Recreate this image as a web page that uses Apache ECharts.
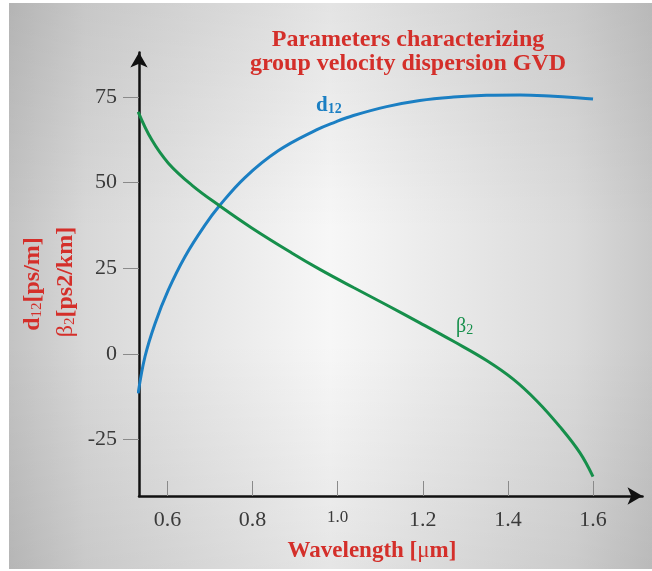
<!DOCTYPE html>
<html>
<head>
<meta charset="utf-8">
<script src="https://cdn.jsdelivr.net/npm/echarts@6/dist/echarts.min.js"></script>
<style>html,body{margin:0;padding:0;background:#fff}#c{width:652px;height:571px}</style>
</head>
<body>
<div id="c"></div>
<script>
// Data
const d12Wavelength = [0.531, 0.547, 0.571, 0.602, 0.641, 0.688, 0.723, 0.782, 0.860, 0.950, 0.994, 1.037, 1.115, 1.193, 1.272, 1.350, 1.428, 1.507, 1.569, 1.600];
const d12Values     = [-11.5, -0.8, 9.0, 18.7, 28.4, 37.6, 43.4, 51.5, 59.3, 65.4, 67.7, 69.6, 72.2, 74.0, 75.0, 75.5, 75.6, 75.2, 74.7, 74.4];
const beta2Wavelength = [0.531, 0.563, 0.602, 0.657, 0.723, 0.798, 0.892, 0.958, 1.037, 1.115, 1.193, 1.272, 1.350, 1.413, 1.468, 1.522, 1.569, 1.600];
const beta2Values     = [70.7, 62.5, 55.7, 49.3, 43.2, 36.8, 29.5, 24.7, 19.4, 14.3, 9.1, 3.7, -1.9, -7.4, -13.7, -21.2, -28.8, -35.8];
const xTickValues = [0.6, 0.8, 1.0, 1.2, 1.4, 1.6];
const yTickValues = [-25, 0, 25, 50, 75];

const RED = '#d42f2a';
const BLUE = '#1b7fc3';
const GREEN = '#168f4b';
const SERIF = "'Liberation Serif', 'DejaVu Serif', serif";

const chart = echarts.init(document.getElementById('c'));
chart.setOption({
  backgroundColor: '#ffffff',
  animation: false,
  grid: { left: 139, right: 9.5, top: 52.5, bottom: 75, containLabel: false, outerBoundsMode: 'none' },
  xAxis: {
    type: 'value', min: 0.533, max: 1.7163,
    splitLine: { show: false },
    axisLine: { onZero: false, lineStyle: { color: '#111', width: 2.5 }, symbol: ['none', 'arrow'], symbolSize: [13, 15] },
    axisTick: { show: true, inside: true, length: 15, customValues: xTickValues, lineStyle: { color: '#8a8a8a', width: 1 } },
    axisLabel: {
      customValues: xTickValues, margin: 13, color: '#3a3a3a', fontFamily: SERIF, fontSize: 22,
      formatter: v => Math.abs(v - 1) < 1e-9 ? '{s|1.0}' : v.toFixed(1),
      rich: { s: { fontSize: 17, fontFamily: SERIF, color: '#3a3a3a', padding: [0, 0, 5, 0] } }
    }
  },
  yAxis: {
    type: 'value', min: -41.45, max: 88.0,
    splitLine: { show: false },
    axisLine: { onZero: false, lineStyle: { color: '#111', width: 2.5 }, symbol: ['none', 'arrow'], symbolSize: [13, 15] },
    axisTick: { show: true, inside: false, length: 16, customValues: yTickValues, lineStyle: { color: '#8a8a8a', width: 1 } },
    axisLabel: { customValues: yTickValues, margin: 22, color: '#3a3a3a', fontFamily: SERIF, fontSize: 22 }
  },
  series: [
    { type: 'line', name: 'd12', data: d12Wavelength.map((x, i) => [x, d12Values[i]]), smooth: 0.4, showSymbol: false,
      lineStyle: { color: BLUE, width: 3 }, z: 3 },
    { type: 'line', name: 'beta2', data: beta2Wavelength.map((x, i) => [x, beta2Values[i]]), smooth: 0.4, showSymbol: false,
      lineStyle: { color: GREEN, width: 3 }, z: 3 }
  ],
  graphic: [
    { type: 'rect', z: -100, silent: true, shape: { x: 9, y: 3, width: 643, height: 566 },
      style: { fill: { type: 'linear', x: 0, y: 0, x2: 1, y2: 0, colorStops: [
        { offset: 0, color: '#c3c3c3' }, { offset: 0.12, color: '#d8d8d8' }, { offset: 0.5, color: '#f7f7f7' },
        { offset: 0.88, color: '#dadada' }, { offset: 1, color: '#c8c8c8' } ] } } },
    { type: 'rect', z: -99, silent: true, shape: { x: 9, y: 3, width: 643, height: 566 },
      style: { fill: { type: 'linear', x: 0, y: 0, x2: 0, y2: 1, colorStops: [
        { offset: 0, color: 'rgba(0,0,0,0.08)' }, { offset: 0.4, color: 'rgba(0,0,0,0)' },
        { offset: 0.6, color: 'rgba(0,0,0,0)' }, { offset: 1, color: 'rgba(0,0,0,0.07)' } ] } } },
    { type: 'text', z: 100, x: 408, y: 40, style: { text: 'Parameters characterizing', fill: RED, font: "bold 24px " + SERIF, align: 'center', verticalAlign: 'middle' } },
    { type: 'text', z: 100, x: 408, y: 64, style: { text: 'group velocity dispersion GVD', fill: RED, font: "bold 24px " + SERIF, align: 'center', verticalAlign: 'middle' } },
    { type: 'text', z: 100, x: 372, y: 551, style: {
        text: '{b|Wavelength [}{m|μ}{b|m]}', align: 'center', verticalAlign: 'middle',
        rich: { b: { fill: RED, fontSize: 23, fontWeight: 'bold', fontFamily: SERIF }, m: { fill: RED, fontSize: 23, fontWeight: 'normal', fontFamily: SERIF } } } },
    { type: 'text', z: 100, x: 33, y: 284, rotation: Math.PI / 2, style: {
        text: '{b|d}{sub|12}{b|[ps/m]}', align: 'center', verticalAlign: 'middle',
        rich: { b: { fill: RED, fontSize: 24, fontWeight: 'bold', fontFamily: SERIF }, sub: { fill: RED, fontSize: 15, fontFamily: SERIF, verticalAlign: 'bottom' } } } },
    { type: 'text', z: 100, x: 66, y: 282, rotation: Math.PI / 2, style: {
        text: '{g|β}{sub|2}{b|[ps2/km]}', align: 'center', verticalAlign: 'middle',
        rich: { g: { fill: RED, fontSize: 24, fontFamily: SERIF }, b: { fill: RED, fontSize: 24, fontWeight: 'bold', fontFamily: SERIF }, sub: { fill: RED, fontSize: 15, fontFamily: SERIF, verticalAlign: 'bottom' } } } },
    { type: 'text', z: 100, x: 316, y: 106, style: {
        text: '{b|d}{sub|12}', align: 'left', verticalAlign: 'middle',
        rich: { b: { fill: BLUE, fontSize: 21, fontWeight: 'bold', fontFamily: SERIF }, sub: { fill: BLUE, fontSize: 14, fontWeight: 'bold', fontFamily: SERIF, verticalAlign: 'bottom' } } } },
    { type: 'text', z: 100, x: 456, y: 327, style: {
        text: '{g|β}{sub|2}', align: 'left', verticalAlign: 'middle',
        rich: { g: { fill: GREEN, fontSize: 20, fontFamily: SERIF }, sub: { fill: GREEN, fontSize: 14, fontFamily: SERIF, verticalAlign: 'bottom' } } } }
  ]
});
</script>
</body>
</html>
